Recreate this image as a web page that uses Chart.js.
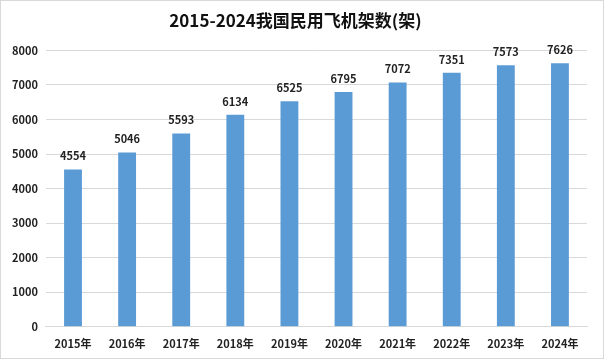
<!DOCTYPE html>
<html lang="zh">
<head>
    <meta charset="UTF-8">
    <title>2015-2024我国民用飞机架数</title>
    <style>
        body { margin: 0; background: #fff; }
        #wrap { width: 602px; height: 357px; border: 1px solid #d9d9d9; position: relative; }
    </style>
</head>
<body>
    <div id="wrap"><canvas id="planes"></canvas></div>
    <script src="https://cdn.jsdelivr.net/npm/chart.js"></script>
<script>
    const years = ['2015年', '2016年', '2017年', '2018年', '2019年', '2020年', '2021年', '2022年', '2023年', '2024年'];
    const planeCounts = [4554, 5046, 5593, 6134, 6525, 6795, 7072, 7351, 7573, 7626];
    const yTicks = [0, 1000, 2000, 3000, 4000, 5000, 6000, 7000, 8000];

    const fontFamily = '"Noto Sans CJK SC", "Liberation Sans", sans-serif';

    // values above each bar
    const barLabels = {
        id: 'barLabels',
        afterDatasetsDraw(chart) {
            const ctx = chart.ctx;
            const meta = chart.getDatasetMeta(0);
            ctx.save();
            ctx.font = 'bold 11px ' + fontFamily;
            ctx.fillStyle = '#222';
            ctx.textAlign = 'center';
            ctx.textBaseline = 'bottom';
            meta.data.forEach((bar, i) => {
                ctx.fillText(planeCounts[i], bar.x, bar.y - 8);
            });
            ctx.restore();
        }
    };

    new Chart(document.getElementById('planes').getContext('2d'), {
        type: 'bar',
        data: {
            labels: years,
            datasets: [{
                data: planeCounts,
                backgroundColor: '#5b9bd5',
                barPercentage: 0.5,
                categoryPercentage: 0.66
            }]
        },
        options: {
            responsive: true,
            maintainAspectRatio: false,
            animation: false,
            layout: { padding: { left: 3, right: 16, top: 4, bottom: 6 } },
            plugins: {
                legend: { display: false },
                tooltip: { enabled: false },
                title: {
                    display: true,
                    text: '2015-2024我国民用飞机架数(架)',
                    color: '#111',
                    font: { family: fontFamily, size: 17, weight: 'bold' },
                    padding: { top: 5, bottom: 20 }
                }
            },
            scales: {
                x: {
                    grid: { display: false },
                    border: { display: true, color: '#d9d9d9' },
                    ticks: { color: '#222', font: { family: fontFamily, size: 11, weight: 'bold' }, padding: 2 }
                },
                y: {
                    min: 0,
                    max: 8000,
                    afterBuildTicks: axis => { axis.ticks = yTicks.map(v => ({ value: v })); },
                    grid: { color: '#d9d9d9', drawTicks: false },
                    border: { display: false },
                    ticks: {
                        color: '#222',
                        font: { family: fontFamily, size: 11, weight: 'bold' },
                        padding: 8,
                        callback: v => String(v)
                    }
                }
            }
        },
        plugins: [barLabels]
    });
</script>
</body>
</html>
